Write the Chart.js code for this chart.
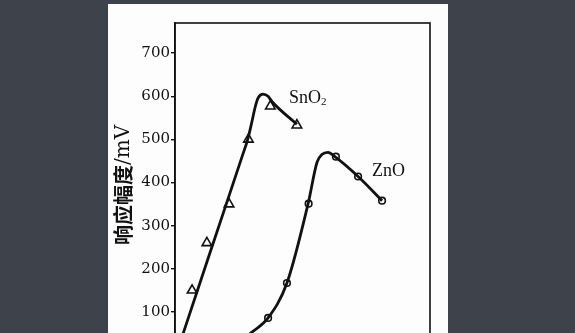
<!DOCTYPE html>
<html>
<head>
<meta charset="utf-8">
<script src="https://cdn.jsdelivr.net/npm/chart.js@4.4.1/dist/chart.umd.min.js"></script>
<style>
  html, body { margin: 0; padding: 0; width: 575px; height: 333px; overflow: hidden; background: #3e424a; }
  #paper { position: absolute; left: 108px; top: 4px; width: 340px; height: 400px; background: #fdfdfd; }
  #wrap { position: absolute; left: 0; top: 0; width: 340px; height: 380px; }
</style>
</head>
<body>
<div id="paper"><div id="wrap"><canvas id="chartCanvas"></canvas></div></div>
<script>
const snCurveX = [0.4, 14.5, 26.3, 28.6, 30.2, 31.4, 32.5, 34.5, 36.5, 38.0, 47.8];
const snCurveY = [0, 251, 460, 502, 542, 574, 595, 605, 600, 588, 535];
const snPointX = [6.7, 12.5, 21.2, 28.8, 37.4, 47.8];
const snPointY = [150, 260, 350, 500, 577, 533];

const znCurveX = [20.8, 30.2, 36.5, 43.9, 52.2, 55.7, 57.6, 60.0, 62.7, 71.8, 81.2];
const znCurveY = [7, 53, 86, 167, 351, 447, 465, 470, 460, 414, 358];
const znPointX = [36.5, 43.9, 52.4, 63.1, 71.8, 81.2];
const znPointY = [86, 167, 351, 460, 414, 358];

const yTicks = [100, 200, 300, 400, 500, 600, 700];
const yTitleCjk = '响应幅度';
const yTitleUnit = '/mV';
const seriesNames = ['SnO2', 'ZnO'];
const labelX = [44.7, 77.3];
const labelY = [584, 414];

const toXY = (xs, ys) => xs.map((x, i) => ({ x: x, y: ys[i] }));

// box around the plot area
const frame = {
  id: 'frame',
  afterDraw(chart) {
    const { ctx, chartArea: a } = chart;
    ctx.save();
    ctx.strokeStyle = '#111';
    ctx.lineWidth = 1.6;
    ctx.strokeRect(a.left, a.top, a.right - a.left, a.bottom - a.top);
    ctx.restore();
  }
};

// rotated y title, chinese in bold sans, unit in serif
const yTitle = {
  id: 'yTitle',
  afterDraw(chart) {
    const { ctx } = chart;
    const cjkFont = 'bold 20px "Noto Sans CJK SC"';
    const unitFont = '20px "DejaVu Serif"';
    ctx.save();
    ctx.font = cjkFont;
    const w1 = ctx.measureText(yTitleCjk).width;
    ctx.font = unitFont;
    const w2 = ctx.measureText(yTitleUnit).width;
    ctx.translate(15.5, 181);
    ctx.rotate(-Math.PI / 2);
    ctx.fillStyle = '#111';
    ctx.textBaseline = 'middle';
    const x0 = -(w1 + w2) / 2;
    ctx.font = cjkFont;
    ctx.fillText(yTitleCjk, x0, 0);
    ctx.font = unitFont;
    ctx.fillText(yTitleUnit, x0 + w1, 0);
    ctx.restore();
  }
};

// series names beside the curves
const names = {
  id: 'names',
  afterDatasetsDraw(chart) {
    const { ctx, scales } = chart;
    ctx.save();
    ctx.fillStyle = '#111';
    ctx.textBaseline = 'alphabetic';
    seriesNames.forEach((n, i) => {
      const px = scales.x.getPixelForValue(labelX[i]);
      const py = scales.y.getPixelForValue(labelY[i]);
      const sub = n.endsWith('2');
      const main = sub ? n.slice(0, -1) : n;
      ctx.font = '18px "Liberation Serif"';
      ctx.fillText(main, px, py);
      if (sub) {
        const w = ctx.measureText(main).width;
        ctx.font = '11px "Liberation Serif"';
        ctx.fillText('2', px + w, py + 2);
      }
    });
    ctx.restore();
  }
};

const ctx = document.getElementById('chartCanvas').getContext('2d');
new Chart(ctx, {
  type: 'scatter',
  data: {
    datasets: [
      {
        type: 'line', data: toXY(snCurveX, snCurveY), borderColor: '#111', borderWidth: 2.8,
        pointRadius: 0, cubicInterpolationMode: 'monotone', fill: false
      },
      {
        data: toXY(snPointX, snPointY), pointStyle: 'triangle', pointRadius: 5.5,
        borderColor: '#111', borderWidth: 1.6, backgroundColor: '#fdfdfd', showLine: false
      },
      {
        type: 'line', data: toXY(znCurveX, znCurveY), borderColor: '#111', borderWidth: 2.8,
        pointRadius: 0, cubicInterpolationMode: 'monotone', fill: false
      },
      {
        data: toXY(znPointX, znPointY), pointStyle: 'circle', pointRadius: 3.3,
        borderColor: '#111', borderWidth: 1.6, backgroundColor: '#fdfdfd', showLine: false
      }
    ]
  },
  options: {
    responsive: true,
    maintainAspectRatio: false,
    animation: false,
    layout: { padding: { top: 19, right: 18, bottom: 29, left: 0 } },
    plugins: { legend: { display: false }, tooltip: { enabled: false } },
    scales: {
      x: { type: 'linear', min: 0, max: 100, display: false },
      y: {
        type: 'linear', min: 0, max: 770,
        afterFit: (s) => { s.width = 67; },
        afterBuildTicks: (s) => { s.ticks = yTicks.map(v => ({ value: v })); },
        ticks: { color: '#111', padding: 1, font: { family: 'DejaVu Serif', size: 15 } },
        grid: { drawOnChartArea: false, tickLength: 4, color: '#111', lineWidth: 1.4 },
        border: { display: true, color: '#111', width: 1.6 },
        title: { display: false }
      }
    }
  },
  plugins: [frame, names, yTitle]
});
</script>
</body>
</html>
